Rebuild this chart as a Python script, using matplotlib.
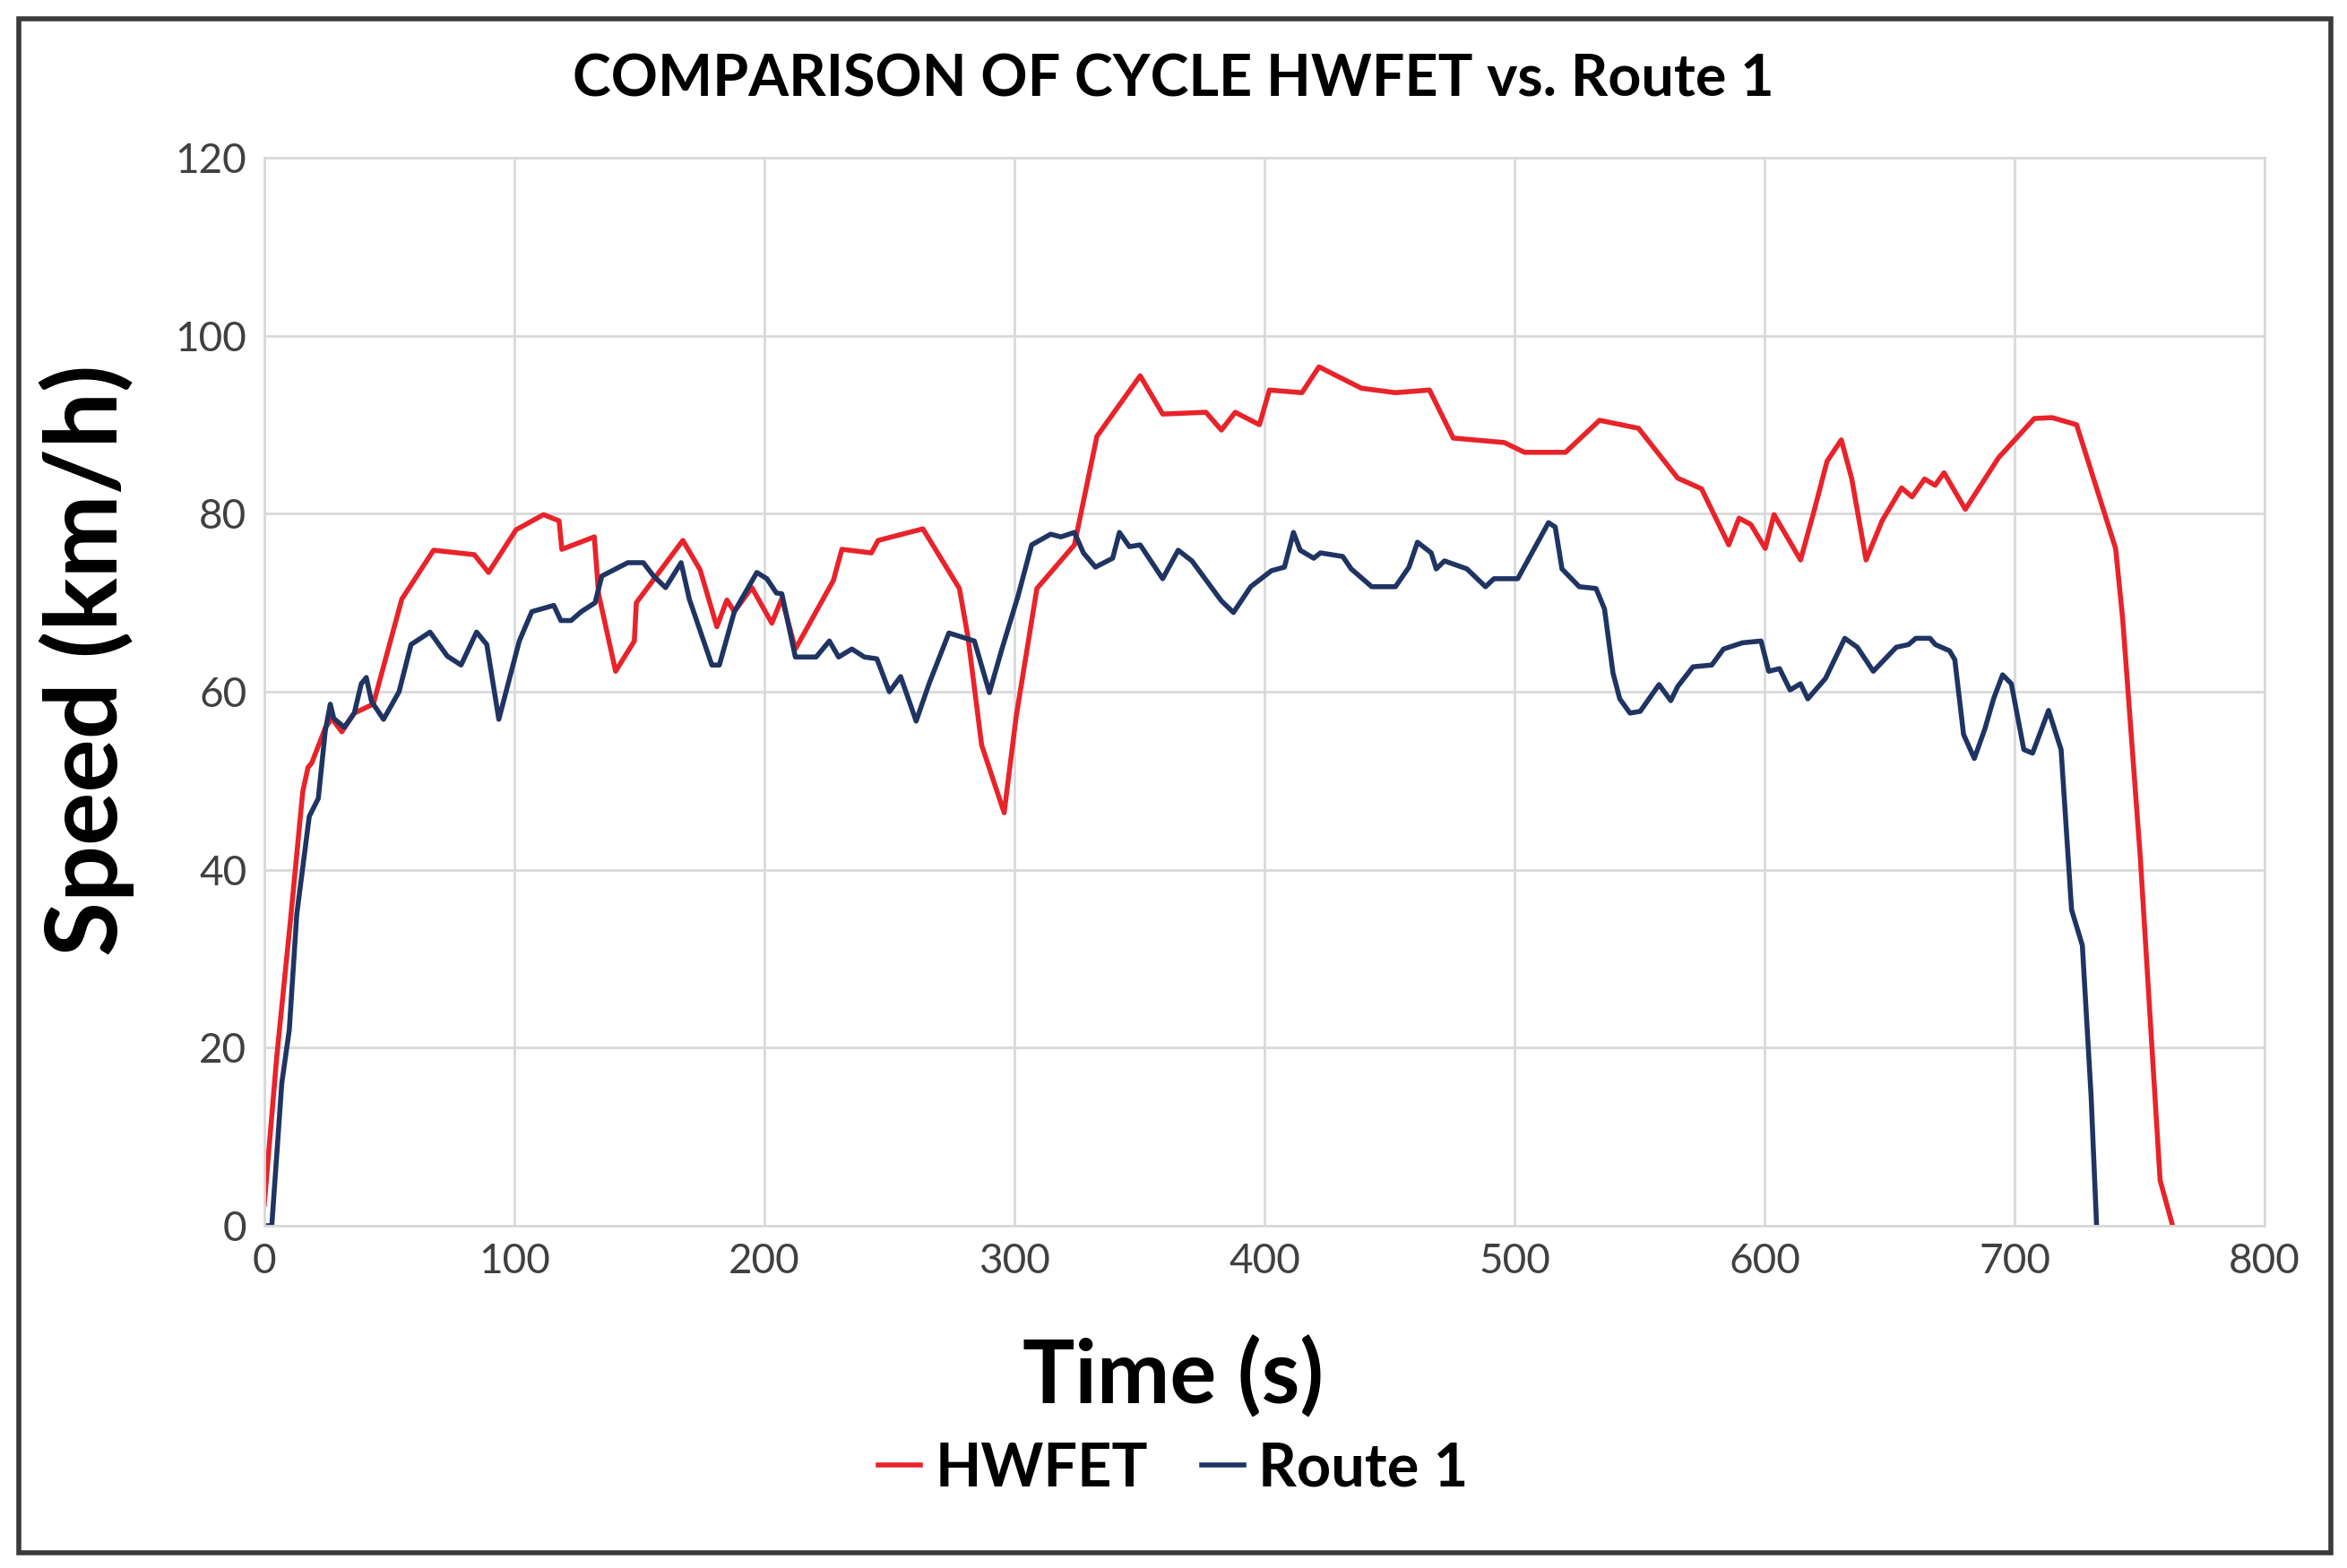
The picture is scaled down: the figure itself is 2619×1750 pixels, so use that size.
import matplotlib
matplotlib.use("Agg")
import matplotlib.pyplot as plt
from matplotlib.patches import Rectangle

# datos (tiempo en s, velocidad en km/h)
t_hwfet = [0, 5, 10.6, 15.4, 17.5, 19, 24.5, 27, 31, 36, 43.6, 55, 67.7, 84, 89.7, 100.7,
           111.7, 117.9, 119, 132, 133.7, 140.5, 148, 148.8, 167.4, 174.3, 181, 185, 188,
           195, 203, 207, 212.4, 227.6, 231, 242.8, 245.5, 263.4, 278, 281.4, 286.9, 295.9,
           300.7, 309, 324, 333, 350.3, 359.3, 376.6, 382.8, 388.3, 398, 402, 415, 421.8,
           438.8, 452.4, 466, 475.5, 495.9, 504, 520.4, 534, 549.6, 565.3, 574.8, 585.7,
           589.8, 594.5, 600.3, 603.8, 614.4, 620, 625, 630.7, 634.9, 640.6, 647, 654.8,
           659, 664, 668.2, 671.8, 680.3, 693.6, 707.9, 715, 724.8, 740.4, 743.2, 750.3,
           758.2, 763.2]
v_hwfet = [2.4, 19, 34.7, 48.8, 51.5, 52, 56, 57, 55.5, 57.6, 58.6, 70.4, 75.9, 75.4, 73.4,
           78.2, 79.9, 79.2, 76, 77.4, 71, 62.3, 65.7, 70, 77, 73.7, 67.3, 70.3, 69, 71.7,
           67.7, 70.5, 64.8, 72.5, 76, 75.6, 77, 78.3, 71.6, 66.2, 54, 46.4, 57.2, 71.6,
           76.5, 88.7, 95.5, 91.2, 91.4, 89.4, 91.4, 90, 93.9, 93.6, 96.5, 94.1, 93.6, 93.9,
           88.5, 88, 86.9, 86.9, 90.5, 89.6, 84, 82.8, 76.5, 79.5, 78.8, 76.1, 79.9, 74.8,
           80.5, 85.9, 88.3, 83.9, 74.8, 79.2, 82.9, 81.9, 83.9, 83.2, 84.6, 80.5, 86.3,
           90.7, 90.8, 90, 76.1, 68.3, 41.3, 5.1, 0]

t_route = [0, 3, 7, 10, 13, 18, 21.6, 24.4, 26.4, 27.8, 32, 36, 38.8, 40.8, 42.9, 47.7,
           53.9, 58.7, 66.3, 73.2, 78.7, 84.9, 89, 93.8, 102, 107, 115.8, 118.6, 122.7,
           126.8, 132.3, 135, 145.4, 151.6, 155.7, 160.5, 166.7, 170, 179, 182, 188, 197,
           201, 204.8, 207, 212.4, 220.7, 226, 229.7, 235, 240, 245, 250, 254.5, 260.7,
           266, 273.8, 284, 290, 295, 301.4, 306.9, 314.5, 318.6, 324, 327.6, 332.4,
           339.3, 342, 346, 350.3, 359.3, 365.5, 371, 382.8, 387.6, 394.5, 402.8, 408,
           411.6, 414.3, 419.7, 422.4, 431.3, 434.7, 442.9, 452.4, 457.8, 461.2, 466.7,
           468.7, 472, 481, 488.4, 491.8, 501.3, 513.6, 516.3, 519, 525.9, 532.6, 536,
           539.4, 542.1, 546.2, 550.3, 557.8, 562.5, 565.3, 571.4, 578.9, 583.6, 591.2,
           598.6, 601.7, 606, 610.2, 614.4, 617.3, 624.4, 632.1, 637.1, 643.5, 652.7,
           657.6, 660.5, 666.2, 668.3, 674, 676.1, 679.6, 683.9, 688.1, 691.6, 695.2,
           698.7, 703.7, 707.2, 713.6, 718.6, 722.8, 727.1, 730.6, 732.8]
v_route = [0, 0, 16, 22, 35, 46, 48, 55.6, 58.6, 57, 56, 57.6, 60.9, 61.6, 58.9, 56.9,
           60, 65.3, 66.7, 64, 63, 66.7, 65.3, 56.9, 65.7, 69, 69.7, 68, 68, 69, 70, 73,
           74.5, 74.5, 73, 71.7, 74.5, 70.4, 63, 63, 69, 73.4, 72.7, 71.1, 71, 63.9, 63.9,
           65.7, 63.9, 64.8, 63.9, 63.7, 60, 61.7, 56.7, 61, 66.6, 65.7, 59.9, 64.8, 70.7,
           76.5, 77.7, 77.4, 77.9, 75.6, 74, 75, 77.9, 76.3, 76.5, 72.7, 75.9, 74.7, 70.2,
           68.9, 71.8, 73.6, 74, 77.9, 75.9, 75, 75.6, 75.2, 73.8, 71.8, 71.8, 74, 76.8,
           75.6, 73.8, 74.7, 73.8, 71.8, 72.7, 72.7, 79, 78.5, 73.8, 71.8, 71.6, 69.3,
           62.1, 59.2, 57.6, 57.8, 60.8, 59, 60.6, 62.8, 63, 64.8, 65.5, 65.7, 62.3, 62.6,
           60.2, 60.9, 59.2, 61.5, 66, 65, 62.3, 65, 65.3, 66, 66, 65.3, 64.6, 63.6, 55.2,
           52.5, 55.8, 59.2, 61.9, 60.9, 53.5, 53.1, 57.9, 53.5, 35.5, 31.5, 14.6, 0]

x_ticks = [0, 100, 200, 300, 400, 500, 600, 700, 800]
y_ticks = [0, 20, 40, 60, 80, 100, 120]

plt.rcParams['font.family'] = ['Lato', 'DejaVu Sans']

fig = plt.figure(figsize=(26.19, 17.5), dpi=100)
ax = fig.add_axes([0.1126, 0.2183, 0.8523, 0.6811])

ax.plot(t_hwfet, v_hwfet, color="#e8232a", lw=4, label="HWFET")
ax.plot(t_route, v_route, color="#1f3462", lw=4, label="Route 1")

ax.set_xlim(0, 800)
ax.set_ylim(0, 120)
ax.set_xticks(x_ticks)
ax.set_yticks(y_ticks)
ax.grid(color="#d9d9d9", lw=2)
ax.set_axisbelow(True)
for s in ax.spines.values():
    s.set_color("#d9d9d9")
    s.set_linewidth(2)
ax.tick_params(length=0, labelsize=33, colors="#404040", pad=14)

fig.text(0.5, 0.949, "COMPARISON OF CYCLE HWFET vs. Route 1", ha="center", va="center",
         fontsize=46.5, fontweight="bold")
fig.text(0.5, 0.122, "Time (s)", ha="center", va="center", fontsize=70, fontweight="bold")
fig.text(0.037, 0.579, "Speed (km/h)", ha="center", va="center", rotation=90,
         fontsize=80, fontweight="bold")

fig.legend(loc="center", bbox_to_anchor=(0.5, 0.063), ncol=2, frameon=False,
           handlelength=0.7, columnspacing=0.9, handletextpad=0.25,
           prop={'weight': 'bold', 'size': 48})

# marco exterior
fig.patches.append(Rectangle((0.008, 0.01), 0.985, 0.978, transform=fig.transFigure,
                             fill=False, edgecolor="#3a3a3a", lw=4))

fig.savefig("out.png", dpi=100, facecolor="white")
